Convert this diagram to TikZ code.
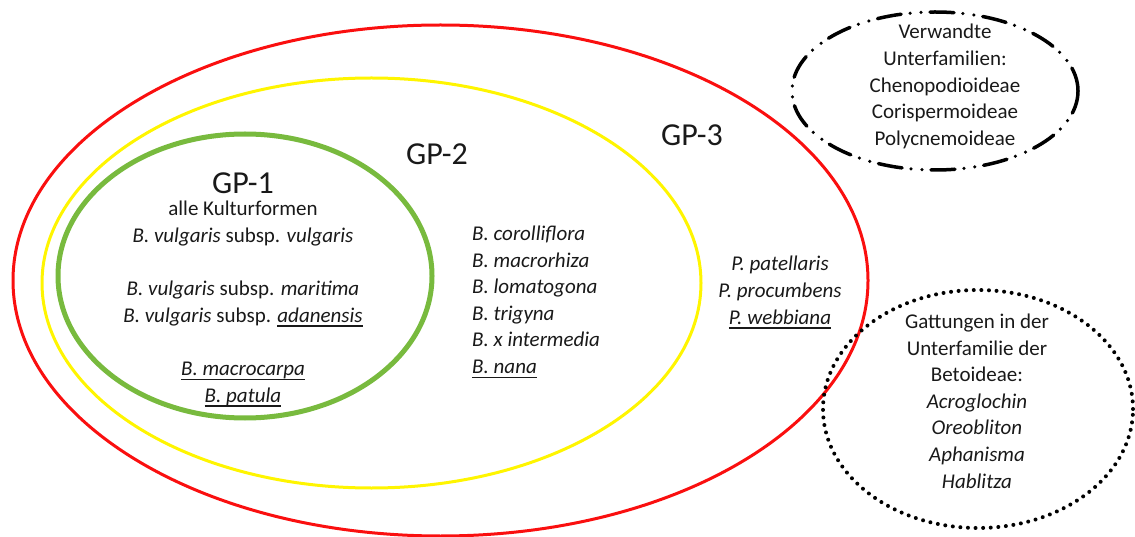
\documentclass[tikz,border=0pt]{standalone}
\usepackage{fontspec}
\setmainfont{Carlito}
\usepackage{tikz}
\usetikzlibrary{shapes.geometric}
\newcommand{\gpul}[1]{\setbox0\hbox{#1}\leavevmode\rlap{\rule[-4.5pt]{\wd0}{1.5pt}}\box0}
\definecolor{gpred}{RGB}{250,15,15}
\definecolor{gpyellow}{RGB}{255,245,0}
\definecolor{gpgreen}{RGB}{120,186,62}
\tikzstyle{ring} = [line width=3pt]
\tikzstyle{dashdotring} = [line width=3.5pt, line cap=round,
	dash pattern=on 24pt off 9pt on 0pt off 11pt on 0pt off 9pt]
\tikzstyle{dotring} = [line width=4pt, line cap=round, dash pattern=on 0pt off 7.6pt]

\begin{document}
\begin{tikzpicture}[x=1pt, y=-1pt,
gptext/.style={font=\fontsize{21}{26.6}\selectfont, align=center, inner sep=0pt, text=black!90},
gptitle/.style={font=\fontsize{32}{36}\selectfont, inner sep=0pt, text=black!90, anchor=base}
%,scale=0.9
]
\useasboundingbox (0,0) rectangle (1135,537);

% gene pools
\draw[ring, gpred] (440.5,280.5) ellipse [x radius=427.5pt, y radius=255.5pt];
\draw[ring, gpyellow] (371.5,283) ellipse [x radius=329.5pt, y radius=205pt];
\draw[line width=5pt, gpgreen] (245,276) ellipse [x radius=187pt, y radius=142pt];
% related groups
\draw[dashdotring] (935,91) ellipse [x radius=143pt, y radius=79pt];
\draw[dotring] (978,409) ellipse [x radius=155pt, y radius=119pt];

\node[gptitle] (gp1) at (243,194) {GP-1};
\node[gptitle] (gp2) at (437,165) {GP-2};
\node[gptitle] (gp3) at (692,145.5) {GP-3};

\node[gptext] (gp1list) at (243,304) {alle Kulturformen\\
	\textit{B. vulgaris} subsp. \textit{vulgaris}\\[26.6pt]
	\textit{B. vulgaris} subsp. \textit{maritima}\\
	\textit{B. vulgaris} subsp. \gpul{\textit{adanensis}}\\[26.6pt]
	\gpul{\textit{B. macrocarpa}}\\
	\gpul{\textit{B. patula}}};
\node[gptext, align=left, anchor=west] (gp2list) at (472,302) {\textit{B. corolliflora}\\
	\textit{B. macrorhiza}\\
	\textit{B. lomatogona}\\
	\textit{B. trigyna}\\
	\textit{B. x intermedia}\\
	\gpul{\textit{B. nana}}};
\node[gptext] (gp3list) at (780,292.5) {\textit{P. patellaris}\\
	\textit{P. procumbens}\\
	\gpul{\textit{P. webbiana}}};

\node[gptext] (subfam) at (945,86.5) {Verwandte\\ Unterfamilien:\\ Chenopodioideae\\
	Corispermoideae\\ Polycnemoideae};
\node[gptext] (betoid) at (977,401) {Gattungen in der\\ Unterfamilie der\\ Betoideae:\\
	\textit{Acroglochin}\\ \textit{Oreobliton}\\ \textit{Aphanisma}\\ \textit{Hablitza}};
\end{tikzpicture}
\end{document}
